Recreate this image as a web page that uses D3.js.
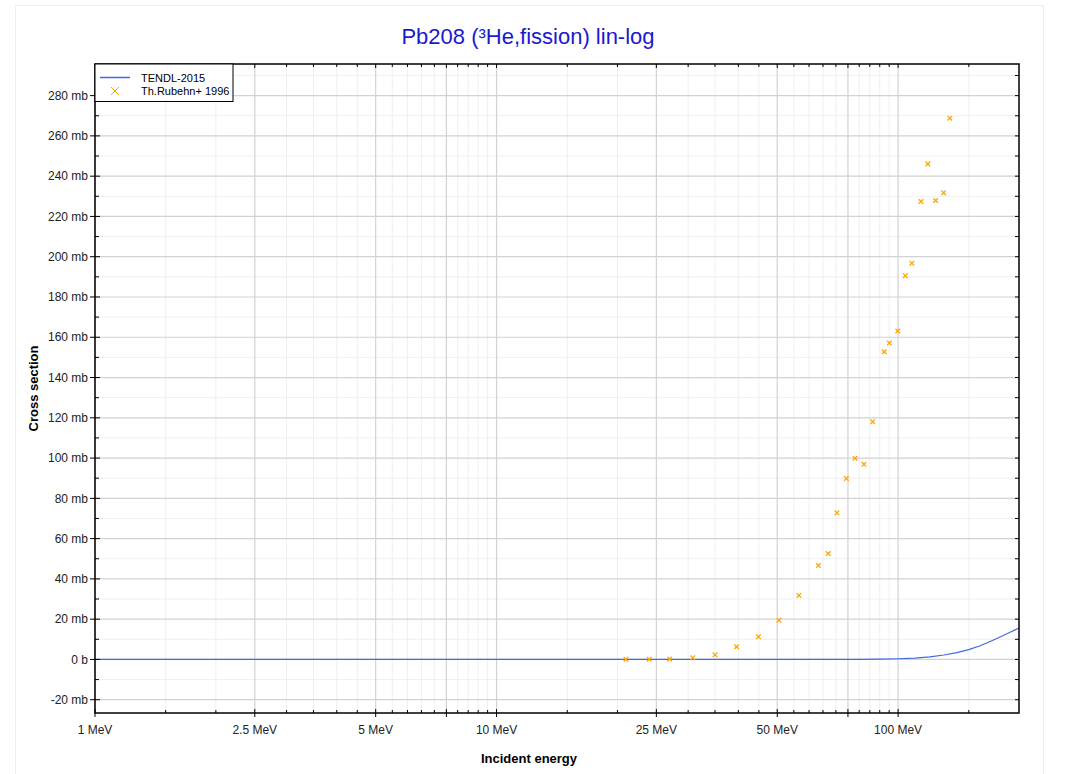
<!DOCTYPE html>
<html>
<head>
<meta charset="utf-8">
<script src="https://cdn.jsdelivr.net/npm/d3@7"></script>
<style>
  body { margin: 0; background: #fff; }
  svg text { font-family: "Liberation Sans", Arial, sans-serif; }
</style>
</head>
<body>
<div id="chart"></div>
<script>
// TENDL-2015 evaluation (MeV, mb)
const tendlE = [1, 2, 5, 10, 20, 30, 40, 50, 60, 70, 80, 90, 100, 110, 120, 130, 140, 150, 160, 170, 180, 190, 200];
const tendlXS = [0, 0, 0, 0, 0, 0, 0, 0, 0, 0.02, 0.05, 0.15, 0.35, 0.7, 1.3, 2.2, 3.4, 4.9, 6.8, 9.0, 11.3, 13.5, 15.6];

// Th.Rubehn+ 1996 measurements (MeV, mb)
const expE = [21.0, 24.0, 27.0, 30.8, 35.0, 39.6, 44.9, 50.5, 56.6, 63.3, 67.0, 70.4, 74.3, 78.1, 82.2, 86.4, 92.4, 95.1, 99.8, 104.2, 108.2, 114.0, 118.6, 124.0, 129.8, 134.5];
const expXS = [0.1, 0.1, 0.2, 0.8, 2.3, 6.3, 11.3, 19.5, 31.8, 46.6, 52.6, 72.8, 89.8, 99.9, 96.9, 118.0, 152.8, 157.1, 163.1, 190.6, 196.7, 227.4, 246.1, 227.9, 231.8, 268.8];

// axis ticks
const xMajor = [1, 2.5, 5, 7.5, 10, 25, 50, 75, 100];
const xLabels = [1, 2.5, 5, 10, 25, 50, 100];
const xMinor = [1.5, 2, 3, 3.5, 4, 4.5, 5.5, 6, 6.5, 7, 8, 8.5, 9, 9.5, 15, 20, 30, 35, 40, 45, 55, 60, 65, 70, 80, 85, 90, 95, 150];
const yMajor = [-20, 0, 20, 40, 60, 80, 100, 120, 140, 160, 180, 200, 220, 240, 260, 280];
const yMinor = [-10, 10, 30, 50, 70, 90, 110, 130, 150, 170, 190, 210, 230, 250, 270, 290];

const W = 1067, H = 774;
const m = {left: 95, right: 1019, top: 64, bottom: 713};

const svg = d3.select("#chart").append("svg")
    .attr("width", W).attr("height", H);

// faint figure frame
svg.append("rect")
    .attr("x", 15.5).attr("y", 5.5).attr("width", 1028).attr("height", 780)
    .attr("fill", "none").attr("stroke", "#eeeeee");

const x = d3.scaleLog().domain([1, 200]).range([m.left, m.right]);
const y = d3.scaleLinear().domain([-26.6, 295.7]).range([m.bottom, m.top]);

// grid
const grid = svg.append("g");
grid.selectAll(".xmin").data(xMinor).join("line")
    .attr("x1", d => x(d)).attr("x2", d => x(d))
    .attr("y1", m.top).attr("y2", m.bottom)
    .attr("stroke", "#efefef").attr("stroke-width", 1);
grid.selectAll(".ymin").data(yMinor).join("line")
    .attr("y1", d => y(d)).attr("y2", d => y(d))
    .attr("x1", m.left).attr("x2", m.right)
    .attr("stroke", "#efefef").attr("stroke-width", 1);
grid.selectAll(".xmaj").data(xMajor).join("line")
    .attr("x1", d => x(d)).attr("x2", d => x(d))
    .attr("y1", m.top).attr("y2", m.bottom)
    .attr("stroke", "#d2d2d2").attr("stroke-width", 1.2);
grid.selectAll(".ymaj").data(yMajor).join("line")
    .attr("y1", d => y(d)).attr("y2", d => y(d))
    .attr("x1", m.left).attr("x2", m.right)
    .attr("stroke", "#d2d2d2").attr("stroke-width", 1.2);

// TENDL line
const line = d3.line().x((d, i) => x(tendlE[i])).y(d => y(d));
svg.append("path")
    .datum(tendlXS)
    .attr("fill", "none")
    .attr("stroke", "#4169e1")
    .attr("stroke-width", 1.2)
    .attr("d", line);

// experimental points as x markers
const s = 2.3;
const pts = svg.append("g").attr("stroke", "#ffa500").attr("stroke-width", 1.3);
expE.forEach((e, i) => {
    const cx = x(e), cy = y(expXS[i]);
    pts.append("path")
        .attr("d", `M${cx - s},${cy - s}L${cx + s},${cy + s}M${cx - s},${cy + s}L${cx + s},${cy - s}`);
});

// frame
svg.append("rect")
    .attr("x", m.left).attr("y", m.top)
    .attr("width", m.right - m.left).attr("height", m.bottom - m.top)
    .attr("fill", "none").attr("stroke", "#000").attr("stroke-width", 1.5);

// ticks
const tk = svg.append("g").attr("stroke", "#000").attr("stroke-width", 1);
// bottom: major crosses, minor inward
xMajor.forEach(d => {
    tk.append("line").attr("x1", x(d)).attr("x2", x(d)).attr("y1", m.bottom - 4).attr("y2", m.bottom + 4);
    tk.append("line").attr("x1", x(d)).attr("x2", x(d)).attr("y1", m.top).attr("y2", m.top + 4);
});
xMinor.forEach(d => {
    tk.append("line").attr("x1", x(d)).attr("x2", x(d)).attr("y1", m.bottom - 3).attr("y2", m.bottom);
    tk.append("line").attr("x1", x(d)).attr("x2", x(d)).attr("y1", m.top).attr("y2", m.top + 3);
});
yMajor.forEach(d => {
    tk.append("line").attr("y1", y(d)).attr("y2", y(d)).attr("x1", m.left - 5).attr("x2", m.left + 5);
    tk.append("line").attr("y1", y(d)).attr("y2", y(d)).attr("x1", m.right - 4).attr("x2", m.right);
});
yMinor.forEach(d => {
    tk.append("line").attr("y1", y(d)).attr("y2", y(d)).attr("x1", m.left).attr("x2", m.left + 4);
    tk.append("line").attr("y1", y(d)).attr("y2", y(d)).attr("x1", m.right - 4).attr("x2", m.right);
});

// tick labels
svg.append("g").selectAll("text").data(xLabels).join("text")
    .attr("x", d => x(d)).attr("y", m.bottom + 21)
    .attr("text-anchor", "middle").attr("font-size", 12).attr("fill", "#222")
    .text(d => d + " MeV");
svg.append("g").selectAll("text").data(yMajor).join("text")
    .attr("x", m.left - 7).attr("y", d => y(d)).attr("dy", "0.35em")
    .attr("text-anchor", "end").attr("font-size", 12).attr("fill", "#222")
    .text(d => d === 0 ? "0 b" : d + " mb");

// axis titles
svg.append("text")
    .attr("x", 529).attr("y", 763)
    .attr("text-anchor", "middle").attr("font-size", 13).attr("font-weight", "bold")
    .text("Incident energy");
svg.append("text")
    .attr("transform", `translate(38,${(m.top + m.bottom) / 2}) rotate(-90)`)
    .attr("text-anchor", "middle").attr("font-size", 13).attr("font-weight", "bold")
    .text("Cross section");

// title
svg.append("text")
    .attr("x", 528).attr("y", 44)
    .attr("text-anchor", "middle").attr("font-size", 22).attr("fill", "#1a1acd")
    .text("Pb208 (³He,fission) lin-log");

// legend
const lg = svg.append("g");
lg.append("rect")
    .attr("x", m.left).attr("y", m.top).attr("width", 138).attr("height", 37.5)
    .attr("fill", "#fff").attr("stroke", "#000").attr("stroke-width", 1);
lg.append("line")
    .attr("x1", 100).attr("x2", 130).attr("y1", 77.5).attr("y2", 77.5)
    .attr("stroke", "#4169e1").attr("stroke-width", 1.5);
lg.append("path")
    .attr("d", "M111,87L119,95M111,95L119,87")
    .attr("stroke", "#ffa500").attr("stroke-width", 1);
lg.append("text").attr("x", 141).attr("y", 81.5).attr("font-size", 11).text("TENDL-2015");
lg.append("text").attr("x", 141).attr("y", 95).attr("font-size", 11).text("Th.Rubehn+ 1996");
</script>
</body>
</html>
